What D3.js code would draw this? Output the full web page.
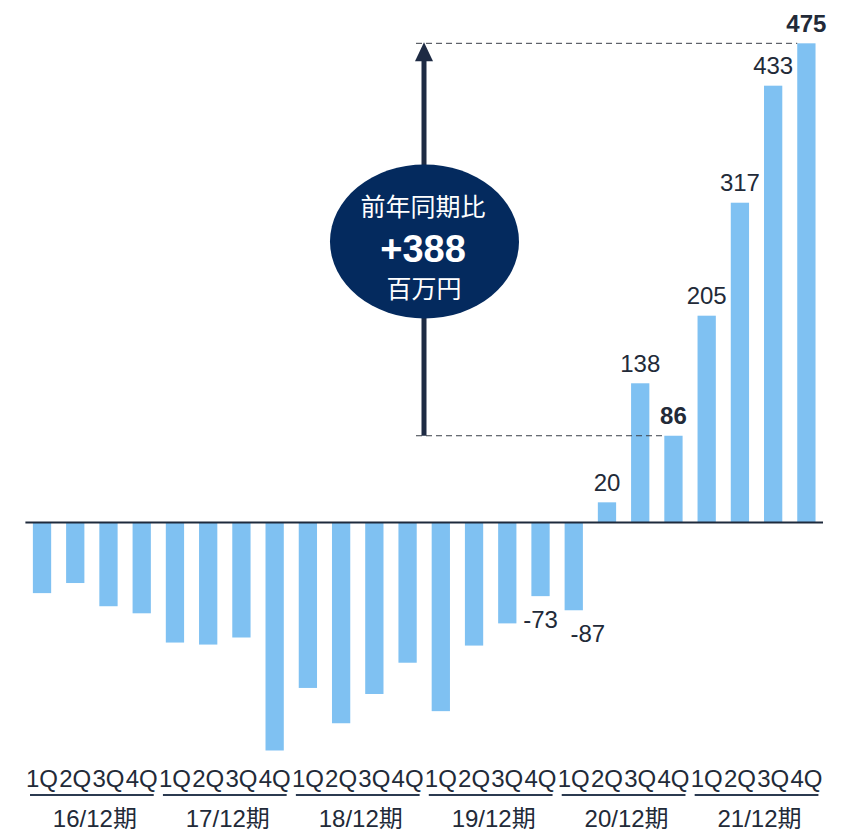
<!DOCTYPE html>
<html>
<head>
<meta charset="utf-8">
<script src="https://cdn.jsdelivr.net/npm/d3@7"></script>
<style>
  html, body { margin: 0; padding: 0; background: #ffffff; }
  svg { display: block; }
  text { font-family: "Liberation Sans", Arial, "Noto Sans CJK JP", sans-serif; }
</style>
</head>
<body>
<svg id="chart" width="843" height="833"></svg>
<script>
// Fiscal periods and quarters along the x axis
const periods = ["16/12期", "17/12期", "18/12期", "19/12期", "20/12期", "21/12期"];
const quarters = ["1Q", "2Q", "3Q", "4Q"];

// Quarterly profit (百万円), oldest first
const values = [
  -70, -60, -83, -90,
  -119, -121, -114, -226,
  -164, -199, -170, -139,
  -187, -122, -100, -73,
  -87, 20, 138, 86,
  205, 317, 433, 475
];

// Bars that carry a value label, and which of them are bold
const labelledBars = [15, 16, 17, 18, 19, 20, 21, 22, 23];
const boldBars = [19, 23];

// Year-on-year comparison callout
const compareFrom = 19;   // 20/12期 4Q
const compareTo = 23;     // 21/12期 4Q
const calloutLines = ["前年同期比", "+388", "百万円"];

const svg = d3.select("#chart");

const TEXT = "#222a38";
const BAR = "#7fc1f2";
const NAVY = "#042a5e";
const ARROW = "#1e2b44";

const x = d3.scaleBand()
  .domain(d3.range(values.length))
  .range([25.4, 823])
  .paddingInner(0.45)
  .paddingOuter(0.225);

const y = d3.scaleLinear()
  .domain([-250, 500])
  .range([522.5 + 250 * 1.0088, 522.5 - 500 * 1.0088]);

// Bars
svg.append("g")
  .selectAll("rect")
  .data(values)
  .join("rect")
  .attr("x", (d, i) => x(i))
  .attr("width", x.bandwidth())
  .attr("y", d => Math.min(y(d), y(0)))
  .attr("height", d => Math.abs(y(d) - y(0)))
  .attr("fill", BAR);

// Zero baseline
svg.append("line")
  .attr("x1", x.range()[0]).attr("x2", x.range()[1])
  .attr("y1", y(0)).attr("y2", y(0))
  .attr("stroke", "#1e2a3c")
  .attr("stroke-width", 2);

// Dashed guides from the arrow to the two compared bars
const arrowX = 424;
[compareFrom, compareTo].forEach(i => {
  svg.append("line")
    .attr("x1", arrowX - 8).attr("x2", x(i))
    .attr("y1", y(values[i])).attr("y2", y(values[i]))
    .attr("stroke", "#3a3f48")
    .attr("stroke-width", 1)
    .attr("stroke-dasharray", "6,4");
});

// Arrow: shaft + head
const yFrom = y(values[compareFrom]);
const yTo = y(values[compareTo]);
svg.append("rect")
  .attr("x", arrowX - 2.5).attr("width", 5)
  .attr("y", yTo + 16).attr("height", yFrom - yTo - 16)
  .attr("fill", ARROW);
svg.append("path")
  .attr("d", `M${arrowX},${yTo - 1} L${arrowX + 9},${yTo + 18} L${arrowX - 9},${yTo + 18} Z`)
  .attr("fill", ARROW);

// Callout ellipse
const callout = svg.append("g");
callout.append("ellipse")
  .attr("cx", 424.5).attr("cy", 241.5)
  .attr("rx", 94.5).attr("ry", 77)
  .attr("fill", NAVY);
callout.append("text")
  .attr("x", 423).attr("y", 216)
  .attr("text-anchor", "middle")
  .attr("fill", "#ffffff")
  .style("font-family", "'Noto Sans CJK JP', sans-serif")
  .style("font-size", "25px")
  .text(calloutLines[0]);
callout.append("text")
  .attr("x", 423).attr("y", 262)
  .attr("text-anchor", "middle")
  .attr("fill", "#ffffff")
  .style("font-size", "38px")
  .style("font-weight", "bold")
  .text(calloutLines[1]);
callout.append("text")
  .attr("x", 424).attr("y", 298)
  .attr("text-anchor", "middle")
  .attr("fill", "#ffffff")
  .style("font-family", "'Noto Sans CJK JP', sans-serif")
  .style("font-size", "25px")
  .text(calloutLines[2]);

// Value labels: above positive bars, below negative ones
const labelShift = { 16: 14 };
svg.append("g")
  .selectAll("text")
  .data(labelledBars)
  .join("text")
  .attr("x", i => x(i) + x.bandwidth() / 2 + (labelShift[i] || 0))
  .attr("y", i => values[i] >= 0 ? y(values[i]) - 11.5 : y(values[i]) + 31.5)
  .attr("text-anchor", "middle")
  .attr("fill", TEXT)
  .style("font-size", "24px")
  .style("font-weight", i => boldBars.includes(i) ? "bold" : "normal")
  .text(i => values[i]);

// Quarter labels
svg.append("g")
  .selectAll("text")
  .data(values.map((d, i) => i))
  .join("text")
  .attr("x", i => x(i) + x.bandwidth() / 2)
  .attr("y", 787)
  .attr("text-anchor", "middle")
  .attr("fill", TEXT)
  .style("font-size", "24px")
  .text(i => quarters[i % quarters.length]);

// Period brackets and labels
const step = x.step();
const periodG = svg.append("g");
periods.forEach((p, k) => {
  const x0 = x.range()[0] + k * quarters.length * step;
  const x1 = x0 + quarters.length * step;
  periodG.append("line")
    .attr("x1", x0 + 4.6).attr("x2", x1 - 4.6)
    .attr("y1", 795).attr("y2", 795)
    .attr("stroke", "#2b3a50")
    .attr("stroke-width", 2);
  periodG.append("text")
    .attr("x", (x0 + x1) / 2 + 3)
    .attr("y", 827)
    .attr("text-anchor", "middle")
    .attr("fill", TEXT)
    .style("font-size", "24px")
    .text(p);
});
</script>
</body>
</html>
